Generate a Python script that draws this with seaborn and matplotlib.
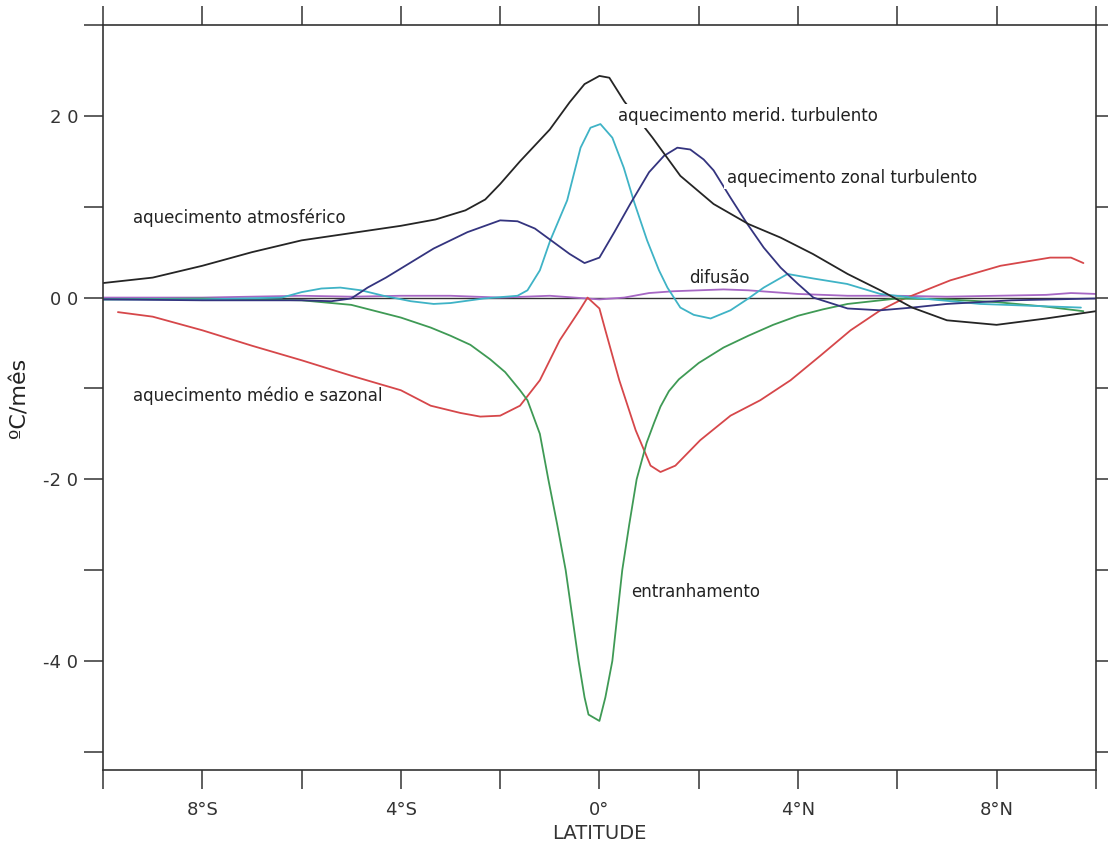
import matplotlib
matplotlib.use("Agg")
import matplotlib.pyplot as plt
import seaborn as sns
from matplotlib.ticker import FixedLocator, MultipleLocator

# latitude (deg, negative = south) and heating terms (ºC/mês)
lat_atm = [-10, -9, -8, -7, -6, -5, -4, -3.3, -2.7, -2.3, -2.0, -1.6, -1.0, -0.6, -0.3, 0.0, 0.2,
           0.5, 1.07, 1.63, 2.3, 3.0, 3.65, 4.3, 5.0, 5.66, 6.3, 7.0, 8.0, 9.0, 10.0]
atm = [0.16, 0.22, 0.35, 0.50, 0.63, 0.71, 0.79, 0.86, 0.96, 1.08, 1.25, 1.50, 1.85, 2.15, 2.35,
       2.44, 2.42, 2.16, 1.76, 1.34, 1.03, 0.81, 0.66, 0.48, 0.26, 0.08, -0.11, -0.25, -0.30,
       -0.23, -0.15]

lat_zonal = [-10, -8, -6, -5.4, -5.0, -4.67, -4.3, -4.0, -3.34, -2.66, -2.0, -1.65, -1.3, -1.0,
             -0.6, -0.3, 0.0, 0.3, 0.62, 1.0, 1.3, 1.57, 1.83, 2.1, 2.3, 2.64, 2.98, 3.31, 3.65,
             4.0, 4.31, 5.0, 5.66, 6.3, 7.0, 8.3, 10]
zonal = [-0.02, -0.03, -0.03, -0.04, -0.01, 0.11, 0.22, 0.32, 0.54, 0.72, 0.85, 0.84, 0.76, 0.64,
         0.48, 0.38, 0.44, 0.72, 1.03, 1.38, 1.56, 1.65, 1.63, 1.52, 1.40, 1.10, 0.81, 0.55, 0.33,
         0.15, 0.0, -0.12, -0.14, -0.11, -0.07, -0.03, -0.01]

lat_merid = [-10, -8, -6.4, -6.0, -5.6, -5.22, -4.8, -4.35, -3.8, -3.34, -3.0, -2.33, -1.65, -1.45,
             -1.2, -0.99, -0.65, -0.38, -0.18, 0.02, 0.26, 0.49, 0.7, 0.96, 1.2, 1.37, 1.63, 1.9,
             2.24, 2.64, 3.0, 3.31, 3.79, 4.31, 4.99, 5.66, 6.3, 7.67, 8.68, 9.7]
merid = [-0.02, -0.02, 0.0, 0.06, 0.10, 0.11, 0.08, 0.02, -0.04, -0.07, -0.06, -0.01, 0.02, 0.08,
         0.30, 0.63, 1.07, 1.65, 1.87, 1.91, 1.76, 1.43, 1.05, 0.63, 0.30, 0.11, -0.11, -0.19,
         -0.23, -0.14, -0.01, 0.11, 0.26, 0.21, 0.15, 0.04, 0.0, -0.07, -0.09, -0.11]

lat_entr = [-10, -8, -6, -5, -4, -3.4, -3.0, -2.6, -2.2, -1.9, -1.6, -1.45, -1.2, -1.03, -0.85,
            -0.68, -0.55, -0.42, -0.3, -0.22, 0.0, 0.12, 0.26, 0.46, 0.6, 0.75, 0.95, 1.1, 1.23,
            1.4, 1.6, 2.0, 2.5, 3.0, 3.5, 4.0, 4.5, 5.0, 6.0, 7.0, 8.0, 9.0, 9.75]
entr = [-0.02, -0.01, -0.03, -0.08, -0.22, -0.33, -0.42, -0.52, -0.68, -0.82, -1.02, -1.13, -1.5,
        -2.0, -2.5, -3.0, -3.5, -4.0, -4.4, -4.59, -4.66, -4.4, -4.0, -3.0, -2.5, -2.0, -1.6,
        -1.38, -1.2, -1.03, -0.9, -0.72, -0.55, -0.42, -0.30, -0.20, -0.13, -0.07, -0.01, -0.02,
        -0.05, -0.10, -0.15]

lat_saz = [-9.7, -9, -8, -7, -6, -5, -4, -3.4, -2.8, -2.4, -2.0, -1.6, -1.2, -0.8, -0.4, -0.24,
           0.0, 0.12, 0.4, 0.73, 1.03, 1.23, 1.53, 2.03, 2.64, 3.24, 3.85, 4.45, 5.06, 5.66, 6.06,
           7.07, 8.08, 9.08, 9.5, 9.75]
saz = [-0.16, -0.21, -0.36, -0.53, -0.69, -0.86, -1.02, -1.19, -1.27, -1.31, -1.30, -1.19, -0.91,
       -0.47, -0.14, 0.0, -0.12, -0.36, -0.91, -1.46, -1.85, -1.92, -1.85, -1.57, -1.30, -1.13,
       -0.91, -0.64, -0.36, -0.14, -0.03, 0.19, 0.35, 0.44, 0.44, 0.38]

lat_dif = [-10, -8, -6, -5, -4, -3, -2, -1, -0.5, 0, 0.5, 1, 1.5, 2, 2.5, 3, 3.5, 4, 5, 6, 7, 8,
           9, 9.5, 10]
dif = [0.0, 0.0, 0.02, 0.01, 0.02, 0.02, 0.0, 0.02, 0.0, -0.02, 0.0, 0.05, 0.07, 0.08, 0.09, 0.08,
       0.06, 0.04, 0.02, 0.02, 0.01, 0.02, 0.03, 0.05, 0.04]

x_ticks = [-8, -4, 0, 4, 8]
x_labels = ["8°S", "4°S", "0°", "4°N", "8°N"]
y_ticks = [2, 0, -2, -4]
y_labels = ["2 0", "0 0", "-2 0", "-4 0"]

sns.set_style("white")
plt.rcParams["font.family"] = ["DejaVu Sans"]

fig = plt.figure(figsize=(11.08, 8.43), dpi=100)
ax = fig.add_axes([0.093, 0.0866, 0.896, 0.8837])

ax.axhline(0, color="#333333", lw=1.0, zorder=1)

series = [
    (lat_dif, dif, "#a667c4"),
    (lat_saz, saz, "#d6474a"),
    (lat_entr, entr, "#3f9a55"),
    (lat_merid, merid, "#3fb3c6"),
    (lat_zonal, zonal, "#34347f"),
    (lat_atm, atm, "#252525"),
]
for xs, ys, c in series:
    sns.lineplot(x=xs, y=ys, color=c, lw=1.3, ax=ax, sort=False, estimator=None)

ax.set_xlim(-10, 10)
ax.set_ylim(-5.2, 3.0)

ax.xaxis.set_major_locator(FixedLocator(x_ticks))
ax.set_xticklabels(x_labels, fontsize=13)
ax.xaxis.set_minor_locator(MultipleLocator(2))
ax.yaxis.set_major_locator(FixedLocator(y_ticks))
ax.set_yticklabels(y_labels, fontsize=13, color="#333333")
ax.yaxis.set_minor_locator(MultipleLocator(1))
ax.tick_params(which="both", direction="out", length=14, width=1.1, color="#333333",
               top=True, right=True, bottom=True, left=True)
ax.tick_params(axis="x", pad=8, colors="#333333")
ax.tick_params(axis="y", pad=4)

for sp in ax.spines.values():
    sp.set_color("#333333")
    sp.set_linewidth(1.2)

ax.set_xlabel("LATITUDE", fontsize=14, color="#333333", labelpad=4)
ax.set_ylabel("ºC/mês", fontsize=16, color="#222222", labelpad=10)

# labels sitting on a line get a white patch, as in the original scan
box = dict(facecolor="white", edgecolor="none", pad=2)
ax.text(-9.4, 0.88, "aquecimento atmosférico", fontsize=12, va="center", color="#222222", bbox=box)
ax.text(0.38, 2.0, "aquecimento merid. turbulento", fontsize=12, va="center", color="#222222", bbox=box)
ax.text(2.56, 1.32, "aquecimento zonal turbulento", fontsize=12, va="center", color="#222222", bbox=box)
ax.text(1.81, 0.22, "difusão", fontsize=12, va="center", color="#222222")
ax.text(-9.4, -1.08, "aquecimento médio e sazonal", fontsize=12, va="center", color="#222222")
ax.text(0.64, -3.24, "entranhamento", fontsize=12, va="center", color="#222222")

fig.savefig("out.png", dpi=100)
